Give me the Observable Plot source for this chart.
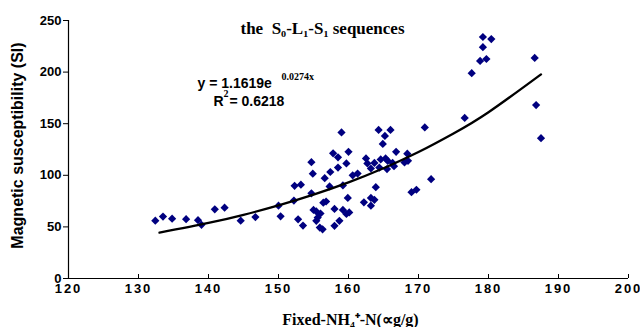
<!DOCTYPE html>
<html>
<head>
<meta charset="utf-8">
<script src="https://cdn.jsdelivr.net/npm/d3@7"></script>
<script src="https://cdn.jsdelivr.net/npm/@observablehq/plot@0.6"></script>
<style>
  html, body { margin: 0; padding: 0; background: #fff; }
  g[aria-label="x-axis tick label"] text { letter-spacing: 2px; }
</style>
</head>
<body>
<div id="chart"></div>
<script>
// Fixed NH4+-N (x) values of samples
const fixedN = [
  132.4, 133.5, 134.8, 136.8, 138.5, 139.0, 140.9, 142.3, 144.6, 146.7,
  150.0, 150.3, 152.3, 153.2, 152.8, 153.5, 154.7, 154.9, 154.7, 152.2,
  155.0, 155.4, 156.0, 155.4, 155.6, 155.9, 156.3, 156.6, 156.4, 156.8,
  157.4, 158.5, 157.8, 158.5, 159.0, 160.0, 159.7, 157.3, 159.2, 158.0,
  159.2, 159.7, 160.1, 158.7, 158.0, 159.9, 160.6, 161.3, 162.5, 162.7,
  163.7, 164.6, 165.3, 165.6, 166.3, 166.8, 163.2, 164.4, 165.5, 166.5,
  168.0, 168.5, 168.4, 163.9, 162.2, 163.2, 163.7, 163.2, 164.3, 166.0,
  165.2, 164.9, 170.9, 171.8, 169.0, 169.7, 176.6, 177.6, 178.8, 179.7,
  179.2, 179.2, 180.4, 186.6, 186.8, 187.5
];
// Magnetic susceptibility (SI) values of samples
const magSus = [
  56.0, 60.0, 58.0, 57.5, 56.5, 52.0, 67.0, 68.6, 56.0, 59.5,
  70.6, 60.3, 89.8, 90.9, 57.3, 51.3, 112.7, 101.6, 82.5, 75.5,
  66.4, 65.0, 63.0, 55.9, 59.0, 49.3, 47.7, 97.2, 73.5, 74.6,
  103.2, 107.5, 121.3, 117.4, 141.5, 122.8, 111.5, 89.2, 90.2, 67.4,
  66.4, 62.5, 64.0, 55.9, 51.0, 78.1, 100.0, 101.7, 116.4, 111.5,
  112.0, 115.4, 116.4, 114.0, 112.0, 122.8, 106.6, 107.5, 106.0, 108.8,
  112.5, 114.0, 121.0, 88.5, 73.8, 78.1, 76.2, 70.6, 144.0, 144.0,
  138.2, 130.4, 146.4, 96.2, 83.6, 86.0, 155.6, 199.0, 210.8, 212.7,
  224.2, 234.0, 232.0, 213.7, 168.0, 136.0
];
// Exponential trend line y = 1.1619e^(0.0274x), points along the drawn curve
const trendX = [133, 140, 145, 150, 155, 160, 165, 170, 175, 180, 187.5];
const trendY = [44.4, 53.8, 61.7, 70.8, 81.2, 93.1, 106.8, 122.5, 140.5, 161.1, 197.8];

const xTicks = [120, 130, 140, 150, 160, 170, 180, 190, 200];
const yTicks = [0, 50, 100, 150, 200, 250];

const titleText = "the  S\u2080-L\u2081-S\u2081 sequences";
const eqMain = "y = 1.1619e";
const eqExp = "0.0274x";
const r2Label = "R";
const r2Sup = "2";
const r2Value = "= 0.6218";
const xLabel = "Fixed-NH\u2084\u207A-N(\u221Dg/g)";
const yLabel = "Magnetic susceptibility (SI)";

const points = fixedN.map((x, i) => ({x, y: magSus[i]}));
const trend = trendX.map((x, i) => ({x, y: trendY[i]}));

const sans = "'Liberation Sans', Arial, sans-serif";
const serif = "'Liberation Serif', 'Times New Roman', serif";

const note = (txt, opts) => Plot.text([txt], {frameAnchor: "top-left", textAnchor: "start", lineAnchor: "middle", text: d => d, fontWeight: "bold", ...opts});

const chart = Plot.plot({
  width: 640,
  height: 327,
  marginLeft: 68,
  marginRight: 12,
  marginTop: 20,
  marginBottom: 49,
  style: {fontFamily: sans, fontWeight: "bold", fontSize: "13px", color: "#000", background: "#fff"},
  x: {domain: [120, 200]},
  y: {domain: [0, 250]},
  marks: [
    Plot.axisX({ticks: xTicks, tickSize: -4, tickPadding: 9, label: null, fontSize: 13, fontWeight: "bold", stroke: "#000"}),
    Plot.axisY({ticks: yTicks, tickSize: 5, tickPadding: 2, label: null, fontSize: 13, fontWeight: "bold"}),
    Plot.ruleX([120], {stroke: "#000", strokeWidth: 1.2}),
    Plot.ruleY([0], {stroke: "#000", strokeWidth: 1.2}),
    Plot.dot(points, {x: "x", y: "y", symbol: "diamond2", r: 3.7, fill: "#000080", stroke: "none"}),
    Plot.line(trend, {x: "x", y: "y", curve: "natural", stroke: "#000", strokeWidth: 2.3}),
    Plot.text([titleText], {frameAnchor: "top", lineAnchor: "middle", dx: -26, dy: 8, text: d => d, fontFamily: serif, fontWeight: "bold", fontSize: 17}),
    note(eqMain, {dx: 129, dy: 63, fontFamily: sans, fontSize: 14}),
    note(eqExp, {dx: 213, dy: 56, fontFamily: serif, fontSize: 10}),
    note(r2Label, {dx: 145, dy: 81, fontFamily: sans, fontSize: 14}),
    note(r2Sup, {dx: 155, dy: 73, fontFamily: serif, fontSize: 10}),
    note(r2Value, {dx: 161, dy: 81, fontFamily: sans, fontSize: 14}),
    Plot.text([xLabel], {frameAnchor: "bottom", lineAnchor: "middle", dx: 2, dy: 41, text: d => d, fontFamily: serif, fontWeight: "bold", fontSize: 16}),
    Plot.text([yLabel], {frameAnchor: "left", textAnchor: "middle", lineAnchor: "middle", rotate: -90, dx: -51, dy: -4, text: d => d, fontFamily: sans, fontWeight: "bold", fontSize: 16})
  ]
});
document.getElementById("chart").appendChild(chart);
</script>
</body>
</html>
